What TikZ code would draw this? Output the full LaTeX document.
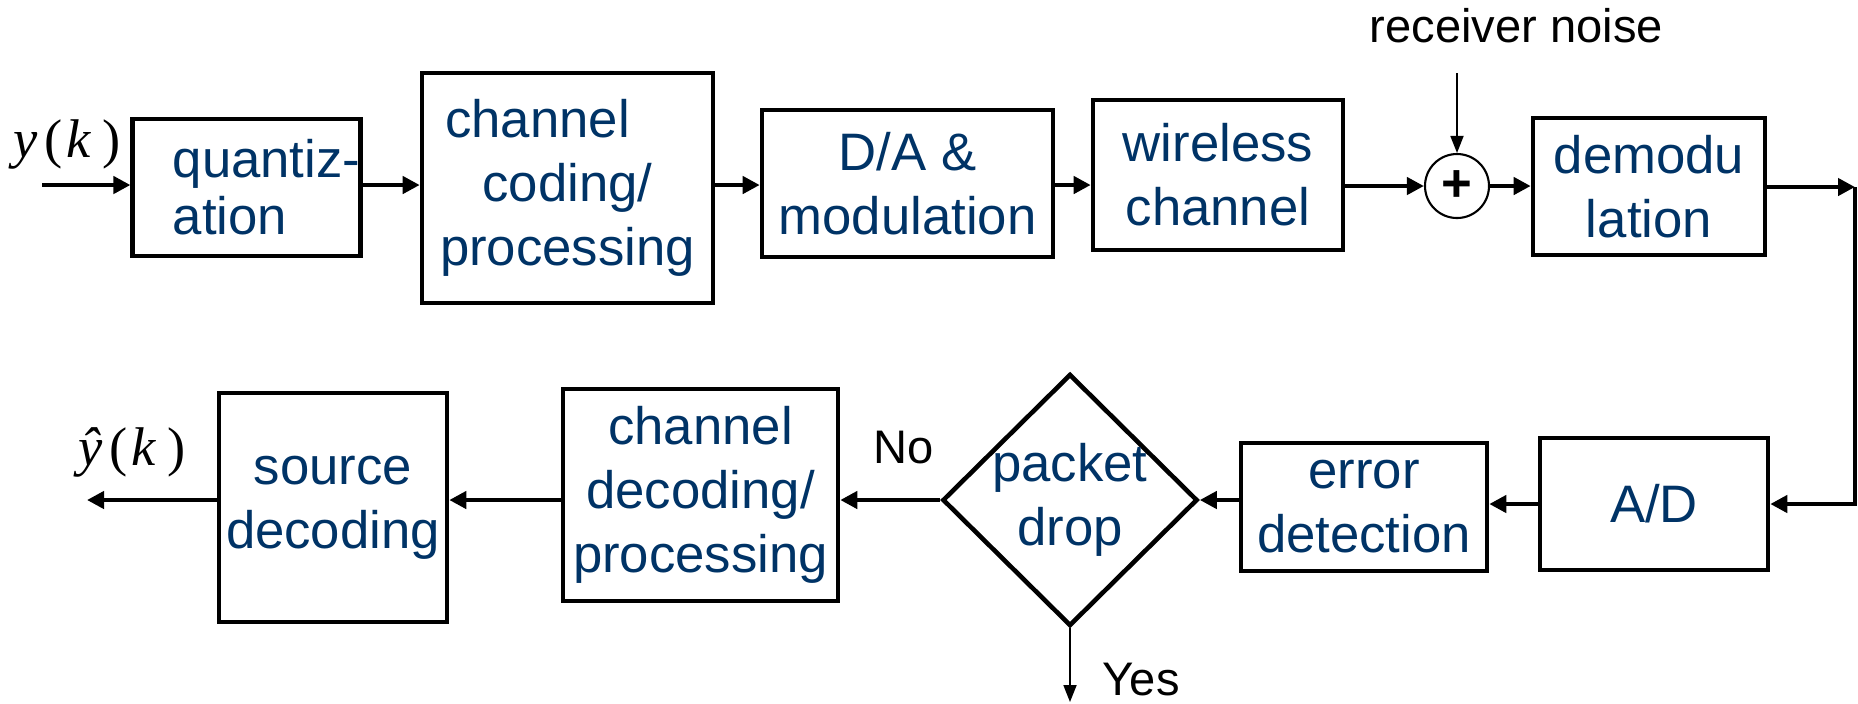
\documentclass[tikz,border=0pt]{standalone}
\usepackage{fontspec}
\setmainfont{Liberation Sans}
\newfontfamily\timesfont{Liberation Serif}
\usetikzlibrary{arrows.meta,shapes.geometric}

\definecolor{boxblue}{RGB}{0,51,102}

\tikzset{
  block/.style={draw, line width=1.3pt, text=boxblue, align=center, inner sep=0pt,
    font=\fontsize{15}{18.2}\selectfont},
  arr/.style={line width=1.2pt, -{Triangle[length=1.7mm,width=1.7mm]}},
  thinarr/.style={line width=0.5pt, -{Triangle[length=1.7mm,width=1.3mm]}},
  lbl/.style={font=\fontsize{13.4}{16}\selectfont, inner sep=0pt},
  sig/.style={font=\timesfont\fontsize{15.5}{18}\selectfont, inner sep=0pt}
}

\begin{document}
\begin{tikzpicture}
\useasboundingbox (0,0) rectangle (18.58,-7.03);

% top row
\coordinate (yin) at (0.42,-1.85);
\node[block, minimum width=2.27cm, minimum height=1.37cm, align=left,
  font=\fontsize{15}{16.2}\selectfont] (quant) at (2.465,-1.875)
  {\hspace*{0.4cm}quantiz-\\\hspace*{0.4cm}ation};
\node[block, minimum width=2.91cm, minimum height=2.30cm] (chcod) at (5.675,-1.88)
  {channel\hspace*{0.6cm}\\coding/\hspace*{0.6cm}\\processing};
\node[block, minimum width=2.91cm, minimum height=1.47cm] (dac) at (9.075,-1.835)
  {D/A \&\\modulation};
\node[block, minimum width=2.50cm, minimum height=1.50cm] (wire) at (12.18,-1.75)
  {wireless\\channel};
\node[circle, draw, line width=0.6pt, minimum size=0.64cm, inner sep=0pt,
  font=\fontsize{15}{15}\selectfont\bfseries] (sum) at (14.57,-1.86) {+};
\node[block, minimum width=2.32cm, minimum height=1.37cm] (demod) at (16.49,-1.865)
  {demodu\\lation};
\node[lbl, anchor=base west] (noise) at (13.69,-0.42) {receiver noise};
\coordinate (noisein) at (14.57,-0.73);
\coordinate (fbtop) at (18.55,-1.87);

% bottom row
\node[block, minimum width=2.28cm, minimum height=1.32cm] (ad) at (16.54,-5.04) {A/D};
\node[block, minimum width=2.46cm, minimum height=1.28cm] (errdet) at (13.64,-5.07)
  {error\\detection};
\node[block, diamond, aspect=1, inner sep=-0.05cm, minimum width=2.55cm,
  minimum height=2.52cm] (pd) at (10.70,-5.00) {packet\\drop};
\node[block, minimum width=2.75cm, minimum height=2.12cm] (chdec) at (7.005,-4.95)
  {channel\\decoding/\\processing};
\node[block, minimum width=2.28cm, minimum height=2.29cm] (srcdec) at (3.33,-5.075)
  {source\\decoding};
\coordinate (yout) at (0.87,-5.00);
\coordinate (yesend) at (10.70,-7.02);

% signals and labels
\node[sig, anchor=base west] (ylbl) at (0.13,-1.57)
  {\textit{y}\kern0.12em(\kern0.08em\textit{k}\kern0.2em)};
\node[sig, anchor=base west] (yhatlbl) at (0.78,-4.65)
  {\textit{\^y}\kern0.12em(\kern0.08em\textit{k}\kern0.2em)};
\node[lbl, anchor=base west] (nolbl) at (8.73,-4.63) {No};
\node[lbl, anchor=base west] (yeslbl) at (11.02,-6.95) {Yes};

% connections
\draw[arr] (yin) -- (yin -| quant.west);
\draw[arr] (quant.east |- yin) -- (chcod.west |- yin);
\draw[arr] (chcod.east |- yin) -- (dac.west |- yin);
\draw[arr] (dac.east |- yin) -- (wire.west |- yin);
\draw[arr] (wire.east |- sum) -- (sum.west);
\draw[arr] (sum.east) -- (sum.east -| demod.west);
\draw[thinarr] (noisein) -- (sum.north);
\draw[arr] (demod.east |- fbtop) -- (fbtop);
\draw[arr] (fbtop) -- (fbtop |- ad) -- (ad.east);
\draw[arr] (ad.west) -- (ad.west -| errdet.east);
\draw[arr] (errdet.west |- pd) -- (pd.east);
\draw[arr] (pd.west) -- (pd.west -| chdec.east);
\draw[arr] (chdec.west |- pd) -- (srcdec.east |- pd);
\draw[arr] (srcdec.west |- pd) -- (yout);
\draw[thinarr] (pd.south) -- (yesend);

\end{tikzpicture}
\end{document}
